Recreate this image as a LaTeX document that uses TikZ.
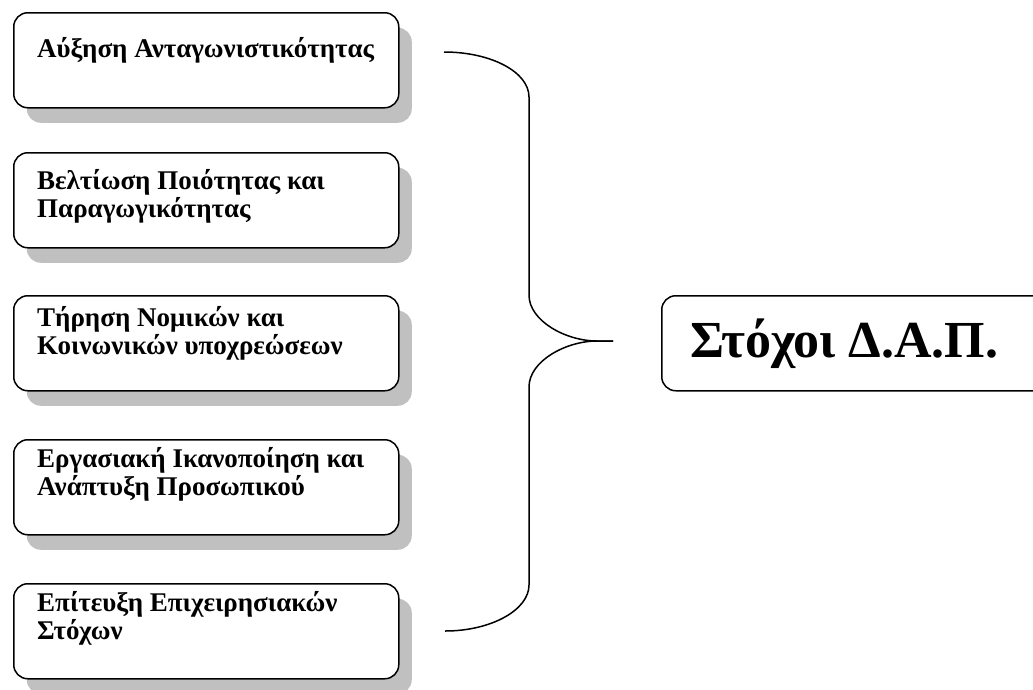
\documentclass[tikz,border=0pt]{standalone}
\usepackage{fontspec}
\setmainfont{Liberation Serif}
\usetikzlibrary{shadows}
\definecolor{shadowgray}{RGB}{192,192,192}
\begin{document}
\begin{tikzpicture}[x=1pt,y=-1pt,
  goalbox/.style={draw=black, line width=1.5pt, rounded corners=14pt, fill=white,
    minimum width=385pt, minimum height=95pt, inner sep=0pt, anchor=north west,
    drop shadow={shadow xshift=13pt, shadow yshift=-15pt, fill=shadowgray, opacity=1}},
  mainbox/.style={draw=black, line width=1.5pt, rounded corners=14pt, fill=white,
    minimum width=385pt, minimum height=95pt, inner sep=0pt, anchor=north west},
  goaltext/.style={anchor=north west, inner sep=0pt, align=left,
    font=\fontsize{27}{28}\selectfont\bfseries},
  maintext/.style={anchor=base west, inner sep=0pt,
    font=\fontsize{52}{60}\selectfont\bfseries},
  brace/.style={draw=black, line width=1.5pt}]
\clip (0,0) rectangle (1033,689);
\node[goalbox] (b1) at (13,12) {};
\node[goalbox] (b2) at (13,152) {};
\node[goalbox] (b3) at (13,295) {};
\node[goalbox] (b4) at (13,439) {};
\node[goalbox] (b5) at (13,583) {};
\node[goaltext] (t1) at (37,31) {\rule{0pt}{26pt}Αύξηση Ανταγωνιστικότητας};
\node[goaltext] (t2) at (37,163) {\rule{0pt}{26pt}Βελτίωση Ποιότητας και\\Παραγωγικότητας};
\node[goaltext] (t3) at (37,300) {\rule{0pt}{26pt}Τήρηση Νομικών και\\Κοινωνικών υποχρεώσεων};
\node[goaltext] (t4) at (37,441) {\rule{0pt}{26pt}Εργασιακή Ικανοποίηση και\\Ανάπτυξη Προσωπικού};
\node[goaltext] (t5) at (37,585) {\rule{0pt}{26pt}Επίτευξη Επιχειρησιακών\\Στόχων};
\node[mainbox] (goal) at (661,295) {};
\node[maintext] (gt) at (690,357) {Στόχοι Δ.Α.Π.};
\coordinate (top) at (444,52);
\coordinate (bot) at (445,631);
\coordinate (tip) at (613,341);
\draw[brace] (top) .. controls (491,52) and (529,72) .. (529,97)
  -- (529,295) .. controls (529,321) and (566,341) .. (597,341) -- (tip);
\draw[brace] (tip) -- (597,341) .. controls (566,341) and (529,361) .. (529,387)
  -- (529,585) .. controls (529,610) and (491,631) .. (bot);
\end{tikzpicture}
\end{document}
